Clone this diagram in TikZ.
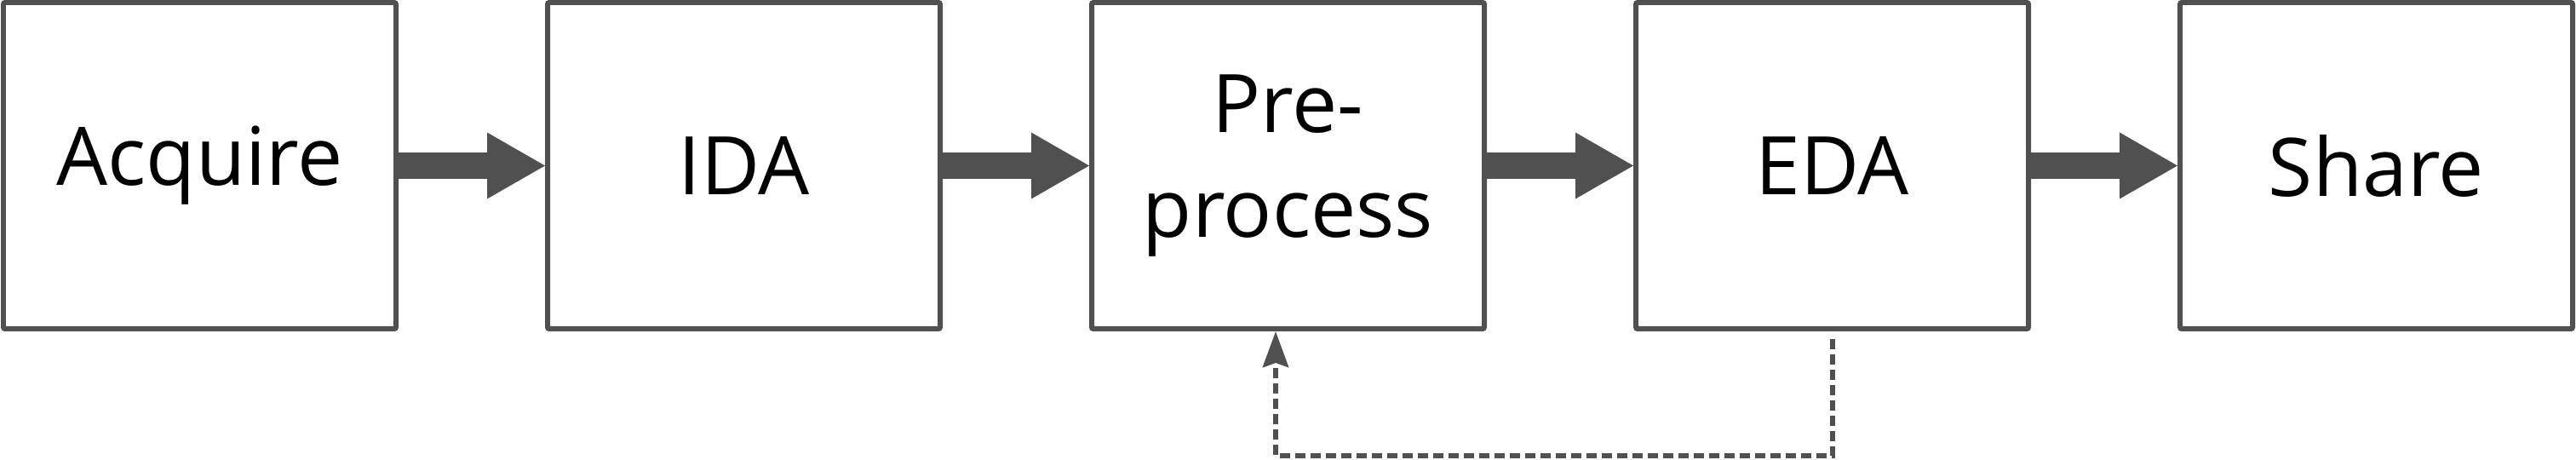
\documentclass[tikz,border=0pt]{standalone}
\usepackage{fontspec}
\setmainfont{Open Sans}
\usepackage{xcolor}
\usepackage{tikz}
\usetikzlibrary{arrows.meta, positioning}
\definecolor{khung}{HTML}{505050}

\begin{document}
\begin{tikzpicture}[
    hop/.style={draw=khung, line width=0.06cm, rounded corners=0.02cm,
        minimum width=4.61cm, minimum height=3.83cm, align=center,
        font=\fontsize{27pt}{35pt}\selectfont},
    muiten/.style={draw=khung, line width=0.31cm,
        -{Triangle[length=0.68cm, width=0.78cm, line width=0pt]}},
    quaylai/.style={draw=khung, line width=0.06cm, dash pattern=on 0.12cm off 0.06cm,
        -{Stealth[length=0.42cm, width=0.3cm, inset=0.05cm]}}
]
    \useasboundingbox (0,0) rectangle (30.25,5.4);
    % Các bước
    \node[hop] (acquire) at (2.345,3.455) {Acquire};
    \node[hop, right=1.72cm of acquire] (ida) {IDA};
    \node[hop, right=1.72cm of ida] (prep) {Pre-\\process};
    \node[hop, right=1.72cm of prep] (eda) {EDA};
    \node[hop, right=1.72cm of eda] (share) {Share};
    
    % Mũi tên giữa các bước
    \foreach \a/\b in {acquire/ida, ida/prep, prep/eda, eda/share}
        \draw[muiten] (\a.east) -- (\b.west);
    
    % Quay lại bước tiền xử lý
    \draw[quaylai] ([yshift=-0.09cm]eda.south) -- ++(0,-1.37)
        -| ([xshift=-0.145cm]prep.south);
\end{tikzpicture}
\end{document}
